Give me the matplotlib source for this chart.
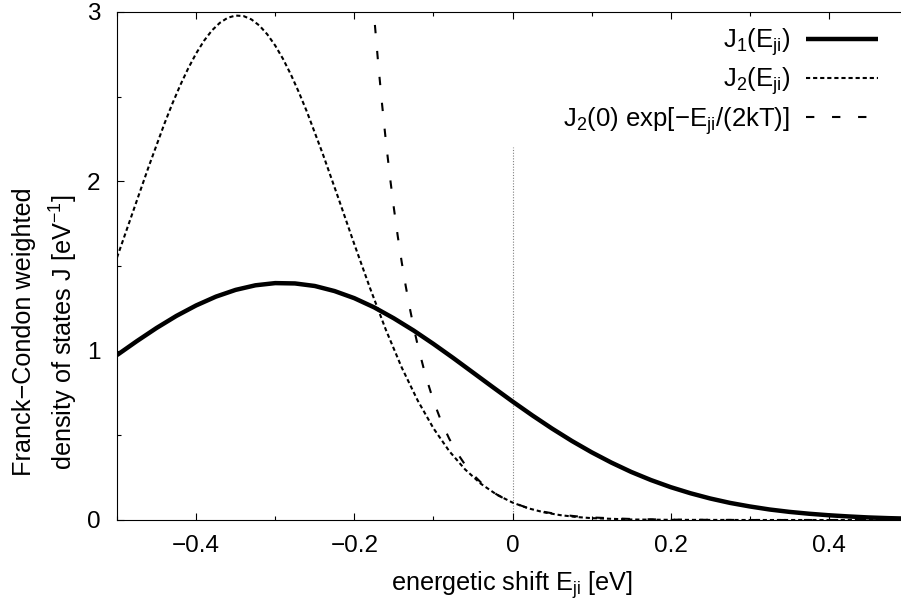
import numpy as np
import matplotlib
matplotlib.use("Agg")
import matplotlib.pyplot as plt
from matplotlib.ticker import AutoMinorLocator

plt.rcParams["font.family"] = ["Liberation Sans", "DejaVu Sans"]
plt.rcParams["mathtext.fontset"] = "custom"
plt.rcParams["mathtext.rm"] = "Liberation Sans"
plt.rcParams["mathtext.it"] = "Liberation Sans:italic"
plt.rcParams["mathtext.bf"] = "Liberation Sans:bold"

# J1(E_ji): broad Franck-Condon weighted density of states [1/eV]
e_j1 = [-0.500, -0.475, -0.450, -0.425, -0.400, -0.375, -0.350, -0.325,
        -0.300, -0.275, -0.250, -0.225, -0.200, -0.175, -0.150, -0.125,
        -0.100, -0.075, -0.050, -0.025, 0.000, 0.025, 0.050, 0.075,
        0.100, 0.125, 0.150, 0.175, 0.200, 0.225, 0.250, 0.275,
        0.300, 0.325, 0.350, 0.375, 0.400, 0.425, 0.450, 0.475, 0.500]
j1 = [0.974, 1.056, 1.134, 1.205, 1.267, 1.319, 1.359, 1.386,
      1.399, 1.397, 1.382, 1.352, 1.310, 1.256, 1.191, 1.119,
      1.040, 0.957, 0.871, 0.785, 0.700, 0.618, 0.540, 0.467,
      0.400, 0.339, 0.284, 0.236, 0.194, 0.158, 0.127, 0.101,
      0.080, 0.062, 0.048, 0.037, 0.028, 0.021, 0.015, 0.011, 0.008]

# J2(E_ji): narrow density of states [1/eV]
e_j2 = [-0.50, -0.48, -0.46, -0.44, -0.43, -0.42, -0.41, -0.40, -0.39,
        -0.38, -0.37, -0.36, -0.35, -0.34, -0.33, -0.32, -0.31, -0.30,
        -0.29, -0.28, -0.27, -0.26, -0.24, -0.22, -0.20, -0.18, -0.16,
        -0.14, -0.12, -0.10, -0.08, -0.06, -0.04, -0.02, 0.00, 0.02,
        0.04, 0.06, 0.08, 0.10, 0.15, 0.20, 0.30, 0.40, 0.50]
j2 = [1.550, 1.818, 2.086, 2.341, 2.459, 2.568, 2.667, 2.755, 2.830,
      2.891, 2.936, 2.966, 2.979, 2.976, 2.956, 2.920, 2.868, 2.802,
      2.722, 2.629, 2.525, 2.412, 2.164, 1.899, 1.629, 1.368, 1.122,
      0.900, 0.707, 0.542, 0.407, 0.299, 0.214, 0.150, 0.103, 0.069,
      0.045, 0.029, 0.018, 0.011, 0.003, 0.001, 0.000, 0.000, 0.000]

# J2(0) exp[-E_ji/(2kT)]: Boltzmann-weighted tail
e_boltz = [-0.180, -0.175, -0.170, -0.165, -0.160, -0.155, -0.150, -0.145,
           -0.140, -0.135, -0.130, -0.125, -0.120, -0.110, -0.100, -0.090,
           -0.080, -0.070, -0.060, -0.050, -0.040, -0.030, -0.020, -0.010,
           0.000, 0.020, 0.040, 0.060, 0.080, 0.100, 0.150, 0.200, 0.300,
           0.400, 0.500]
j_boltz = [3.283, 2.981, 2.708, 2.460, 2.234, 2.029, 1.843, 1.674,
           1.521, 1.382, 1.255, 1.140, 1.035, 0.854, 0.705, 0.581,
           0.480, 0.396, 0.327, 0.269, 0.222, 0.183, 0.151, 0.125,
           0.103, 0.070, 0.048, 0.032, 0.022, 0.015, 0.006, 0.002, 0.000,
           0.000, 0.000]

labels = [r"J$_1$(E$_\mathrm{ji}$)",
          r"J$_2$(E$_\mathrm{ji}$)",
          r"J$_2$(0) exp[−E$_\mathrm{ji}$/(2kT)]"]

x_ticks = [-0.4, -0.2, 0.0, 0.2, 0.4]
x_tick_labels = ["−0.4", "−0.2", "0", "0.2", "0.4"]
y_ticks = [0, 1, 2, 3]
y_tick_labels = ["0", "1", "2", "3"]

# reference marker at zero energetic shift
guide_x = 0.0
guide_top = 2.2

TICK_FS = 17.5
LABEL_FS = 18.2
LEGEND_FS = 18.5

fig = plt.figure(figsize=(9.01, 6.08), dpi=100)
ax = fig.add_axes([117 / 901, 88 / 608, 791 / 901, 508 / 608])

ax.vlines(guide_x, 0, guide_top, colors="#808080", linewidth=0.8,
          linestyles=(0, (1.0, 1.5)), zorder=1)

l1, = ax.plot(e_j1, j1, color="black", linewidth=3.2, solid_capstyle="butt",
              solid_joinstyle="round", label=labels[0], zorder=3)
l2, = ax.plot(e_j2, j2, color="black", linewidth=1.5,
              linestyle=(0, (2.0, 1.4)), label=labels[1], zorder=2)
l3, = ax.plot(e_boltz, j_boltz, color="black", linewidth=1.5,
              linestyle=(0, (4.0, 8.5)), label=labels[2], zorder=2)

ax.set_xlim(-0.5, 0.5)
ax.set_ylim(0, 3)
ax.set_xticks(x_ticks)
ax.set_xticklabels(x_tick_labels)
ax.set_yticks(y_ticks)
ax.set_yticklabels(y_tick_labels)
ax.xaxis.set_minor_locator(AutoMinorLocator(2))
ax.yaxis.set_minor_locator(AutoMinorLocator(2))
ax.tick_params(which="both", direction="in", top=True, right=True,
               width=0.8, labelsize=TICK_FS)
ax.tick_params(which="major", length=5)
ax.tick_params(which="minor", length=3)
ax.tick_params(axis="x", pad=11)
ax.tick_params(axis="y", pad=12)
for sp in ax.spines.values():
    sp.set_linewidth(0.8)

ax.set_xlabel(r"energetic shift E$_\mathrm{ji}$ [eV]", fontsize=LABEL_FS)
ax.xaxis.set_label_coords(0.5, -0.098)
ax.xaxis.label.set_va("top")
ax.set_ylabel("Franck−Condon weighted\ndensity of states J [eV$^{-1}$]",
              fontsize=LABEL_FS, linespacing=1.45)
ax.yaxis.set_label_coords(-0.047, 0.37)

ax.legend(handles=[l1, l2, l3], loc="upper right",
          bbox_to_anchor=(878 / 901, 1 - 26 / 608),
          bbox_transform=fig.transFigure, frameon=False, markerfirst=False,
          fontsize=LEGEND_FS, handlelength=2.8, handletextpad=0.62,
          labelspacing=0.3, borderpad=0, borderaxespad=0)

fig.savefig("out.png", dpi=100)
